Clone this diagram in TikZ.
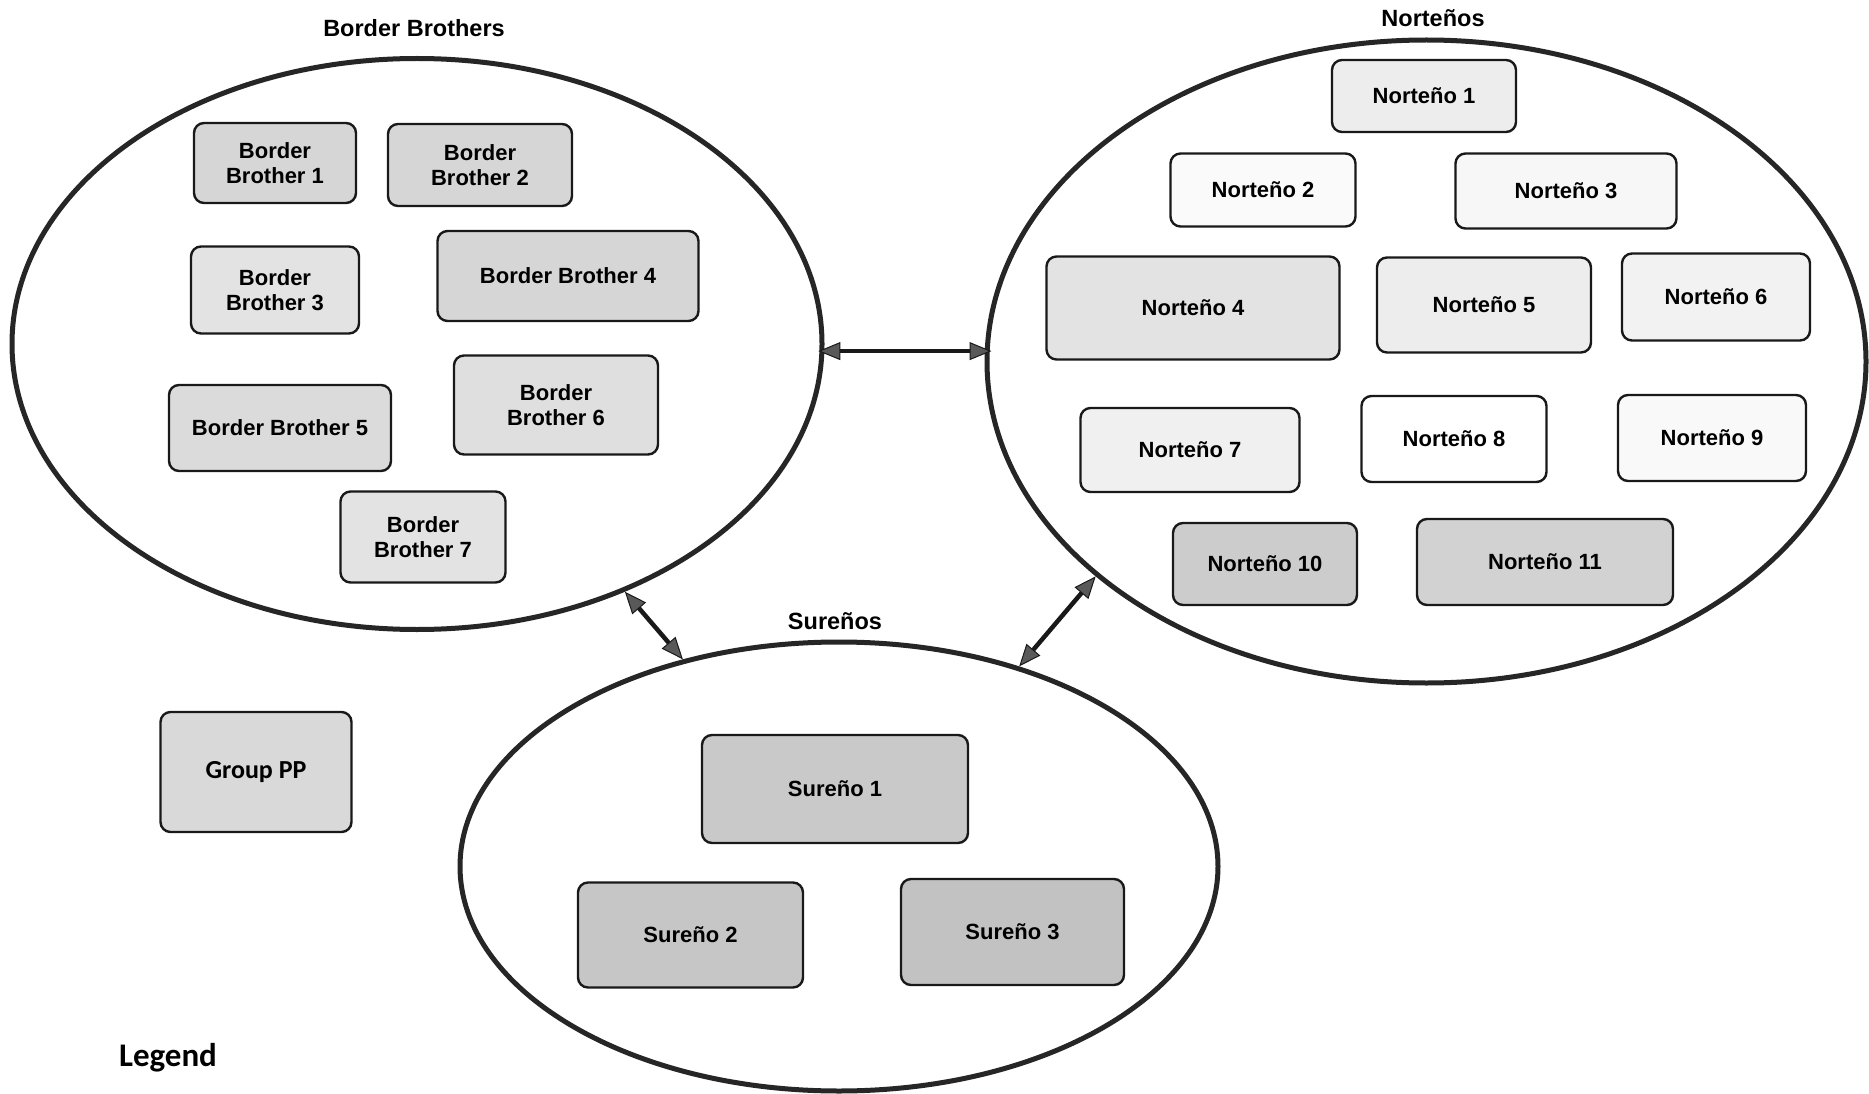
\documentclass[tikz,border=0pt]{standalone}
\usepackage{fontspec}
\setmainfont{Liberation Sans}
\newfontfamily\calfont{Carlito}
\usetikzlibrary{shapes.geometric,arrows.meta}
\begin{document}
\begin{tikzpicture}[x=1pt,y=-1pt,
  box/.style={draw=black!90, line width=2.4pt, rounded corners=10pt, inner sep=0pt, align=center,
    font=\fontsize{22}{25}\selectfont\bfseries, text=black},
  grp/.style={ellipse, draw=black!85, line width=5pt, inner sep=0pt},
  ttl/.style={font=\fontsize{23.5}{26}\selectfont\bfseries},
  link/.style={line width=4.5pt, draw=black!90,
    {Triangle[length=22pt,width=18pt,fill=black!65,line width=1pt]}-{Triangle[length=22pt,width=18pt,fill=black!65,line width=1pt]}}
]
\useasboundingbox (0,0) rectangle (1869,1094);
\fill[white] (0,0) rectangle (1869,1094);

% group ellipses
\node[grp, minimum width=810pt, minimum height=571pt] (bb) at (417,344) {};
\node[grp, minimum width=879pt, minimum height=643pt] (no) at (1426.5,361.5) {};
\node[grp, minimum width=758pt, minimum height=449pt] (su) at (839,866.5) {};

% titles
\node[ttl] (tbb) at (414,28) {Border Brothers};
\node[ttl] (tno) at (1433,18) {Norteños};
\node[ttl] (tsu) at (835,621) {Sureños};

% Border Brothers
\node[box, fill=gray!32, minimum width=162pt, minimum height=80pt] (bb1) at (275,163) {Border\\Brother 1};
\node[box, fill=gray!32, minimum width=184pt, minimum height=82pt] (bb2) at (480,165) {Border\\Brother 2};
\node[box, fill=gray!22, minimum width=168pt, minimum height=87pt] (bb3) at (275,290) {Border\\Brother 3};
\node[box, fill=gray!32, minimum width=261pt, minimum height=90pt] (bb4) at (568,276) {Border Brother 4};
\node[box, fill=gray!28, minimum width=222pt, minimum height=86pt] (bb5) at (280,428) {Border Brother 5};
\node[box, fill=gray!25, minimum width=204pt, minimum height=99pt] (bb6) at (556,405) {Border\\Brother 6};
\node[box, fill=gray!22, minimum width=165pt, minimum height=91pt] (bb7) at (423,537) {Border\\Brother 7};

% Nortenos
\node[box, fill=gray!14, minimum width=184pt, minimum height=72pt] (n1) at (1424,96) {Norteño 1};
\node[box, fill=gray!4, minimum width=185pt, minimum height=73pt] (n2) at (1263,190) {Norteño 2};
\node[box, fill=gray!6, minimum width=221pt, minimum height=75pt] (n3) at (1566,191) {Norteño 3};
\node[box, fill=gray!22, minimum width=293pt, minimum height=103pt] (n4) at (1193,308) {Norteño 4};
\node[box, fill=gray!14, minimum width=214pt, minimum height=95pt] (n5) at (1484,305) {Norteño 5};
\node[box, fill=gray!10, minimum width=188pt, minimum height=87pt] (n6) at (1716,297) {Norteño 6};
\node[box, fill=gray!12, minimum width=219pt, minimum height=84pt] (n7) at (1190,450) {Norteño 7};
\node[box, fill=white, minimum width=185pt, minimum height=86pt] (n8) at (1454,439) {Norteño 8};
\node[box, fill=gray!5, minimum width=188pt, minimum height=86pt] (n9) at (1712,438) {Norteño 9};
\node[box, fill=gray!40, minimum width=184pt, minimum height=82pt] (n10) at (1265,564) {Norteño 10};
\node[box, fill=gray!35, minimum width=256pt, minimum height=86pt] (n11) at (1545,562) {Norteño 11};

% Surenos
\node[box, fill=gray!42, minimum width=266pt, minimum height=108pt] (s1) at (835,789) {Sureño 1};
\node[box, fill=gray!45, minimum width=225pt, minimum height=105pt] (s2) at (690.5,935) {Sureño 2};
\node[box, fill=gray!48, minimum width=223pt, minimum height=106pt] (s3) at (1012.5,932) {Sureño 3};

% legend
\node[box, fill=gray!30, minimum width=191pt, minimum height=120pt, font=\calfont\fontsize{26}{28}\selectfont\bfseries] (gpp) at (256,772) {Group PP};
\node[font=\calfont\fontsize{33}{36}\selectfont\bfseries] (leg) at (168,1058) {Legend};

% connectors
\draw[link, shorten <=-6pt, shorten >=-7pt] (bb.-1) -- (bb.-1 -| no.west);
\draw[link] (bb.-50) -- (su.127.4);
\draw[link] (no.213) -- (su.48.35);
\end{tikzpicture}
\end{document}
